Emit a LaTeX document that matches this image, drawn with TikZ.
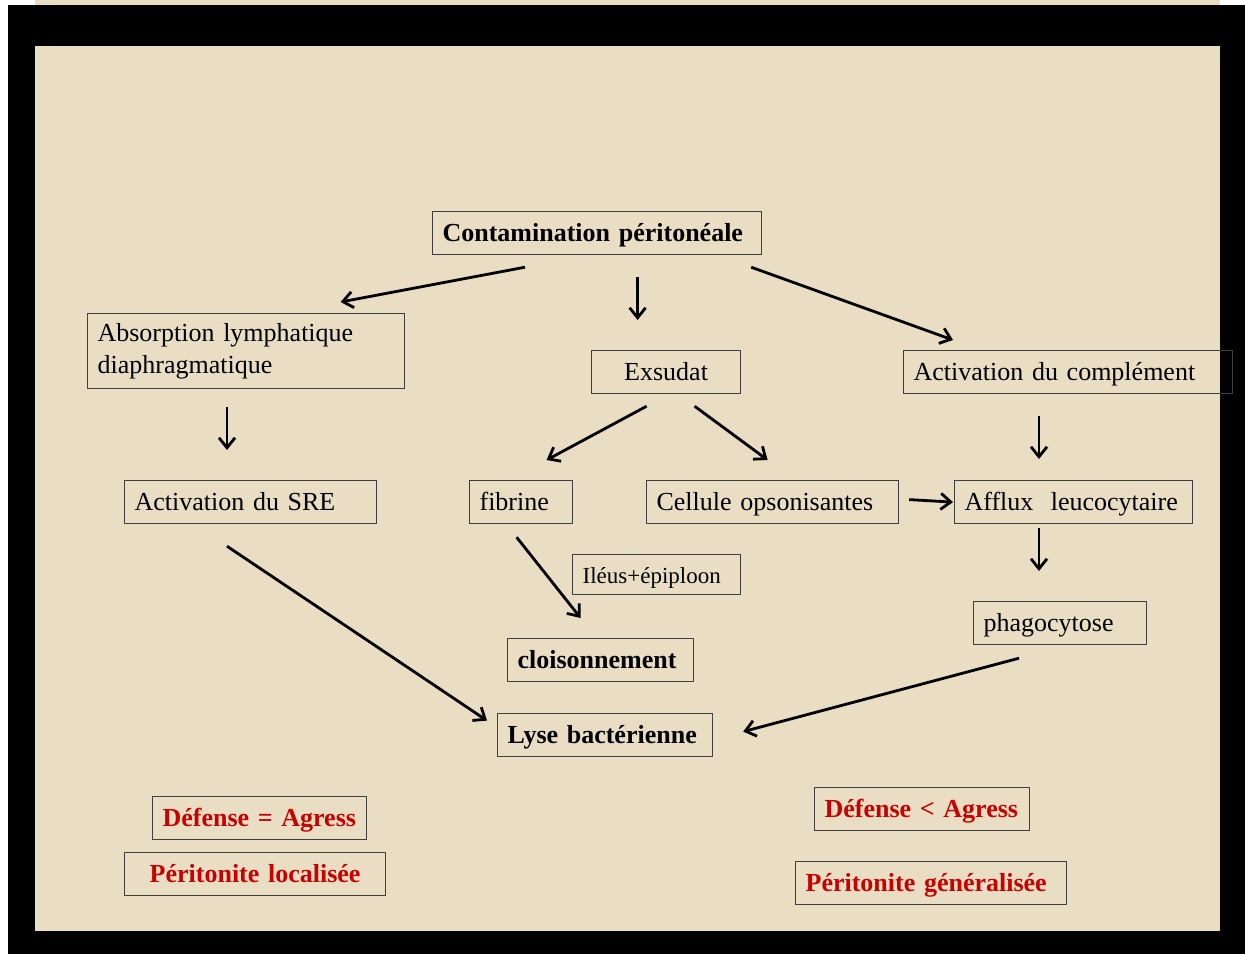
\documentclass[tikz,border=0pt]{standalone}
\usepackage{fontspec}
\setmainfont{Liberation Serif}
\usetikzlibrary{arrows.meta,calc}
\definecolor{beige}{RGB}{233,221,195}
\definecolor{rouge}{RGB}{200,0,0}
\begin{document}
\begin{tikzpicture}[x=0.5pt,y=-0.5pt]
		\tikzstyle{box}=[draw=black!75, line width=0.6pt, inner xsep=5pt, inner ysep=2pt, text height=13pt, text depth=4.5pt, anchor=north west, align=left, font=\fontsize{13}{16}\selectfont]
		\tikzstyle{bbox}=[box, font=\fontsize{13}{16}\selectfont\bfseries]
		\tikzstyle{rbox}=[bbox, text=rouge]
		\tikzstyle{arr}=[-{Straight Barb[length=5pt,width=8pt]}, line width=1.4pt]
		\useasboundingbox (0,0) rectangle (1245,954);
		\fill [black] (8,5) rectangle (1245,954);
		\fill [beige] (35,0) rectangle (1220,5);
		\fill [beige] (35,46) rectangle (1220,931);
		\node [bbox, text width=154.5pt] (cont) at (432,211) {Contamination péritonéale};
		\node [box, text width=148.5pt, text height={}, text depth={}, inner ysep=3pt, minimum height=37.5pt] (abs) at (87,313) {Absorption lymphatique\\diaphragmatique};
		\node [box, text width=64.5pt, align=center] (exs) at (591,350) {Exsudat};
		\node [box, text width=154.5pt] (comp) at (903,350) {Activation du complément};
		\node [box, text width=116pt] (sre) at (124,480) {Activation du SRE};
		\node [box, text width=41.5pt] (fib) at (469,480) {fibrine};
		\node [box, text width=116pt] (cell) at (646,480) {Cellule opsonisantes};
		\node [box, text width=109pt] (aff) at (954,480) {Afflux~ leucocytaire};
		\node [box, text width=74pt, text height=12.5pt, text depth=3.5pt, font=\fontsize{11.5}{14}\selectfont] (ileus) at (572,554) {Iléus+épiploon};
		\node [box, text width=76.5pt] (phago) at (973,601) {phagocytose};
		\node [bbox, text width=83pt] (cloi) at (507,638) {cloisonnement};
		\node [bbox, text width=97.5pt] (lyse) at (497,713) {Lyse bactérienne};
		\node [rbox, text width=97pt] (def1) at (152,796) {Défense = Agress};
		\node [rbox, text width=120.5pt, align=center] (per1) at (124,852) {Péritonite localisée};
		\node [rbox, text width=97.5pt] (def2) at (814,787) {Défense < Agress};
		\node [rbox, text width=125.5pt] (per2) at (795,861) {Péritonite généralisée};
		\draw [arr] ($(cont.south west)+(93,12)$) -- ($(abs.north)+(94.5,-11)$);
		\draw [arr] ($(cont.south)+(40.5,22)$) -- ($(exs.north)+(-28.5,-30)$);
		\draw [arr] ($(cont.south east)+(-11,12)$) -- ($(comp.north west)+(50,-10)$);
		\draw [arr] ($(abs.south west)+(140,18)$) -- ($(sre.north west)+(103,-30)$);
		\draw [arr] ($(exs.south)+(-19.5,12)$) -- ($(fib.north)+(25.5,-20)$);
		\draw [arr] ($(exs.south)+(28.5,12)$) -- ($(cell.north)+(-5,-20)$);
		\draw [arr] ($(comp.south west)+(136,22)$) -- ($(aff.north west)+(85,-21)$);
		\draw [arr] ($(cell.east)+(10,-2.5)$) -- ($(aff.west)+(-1,0)$);
		\draw [arr] ($(aff.south west)+(85,4)$) -- ($(phago.north west)+(66,-30)$);
		\draw [arr] ($(fib.south)+(-4.5,13)$) -- ($(cloi.north)+(-20,-20)$);
		\draw [arr] ($(sre.south west)+(103,22)$) -- ($(lyse.west)+(-10,-14.5)$);
		\draw [arr] ($(phago.south west)+(46,13)$) -- ($(lyse.east)+(30,-3.5)$);
\end{tikzpicture}
\end{document}
